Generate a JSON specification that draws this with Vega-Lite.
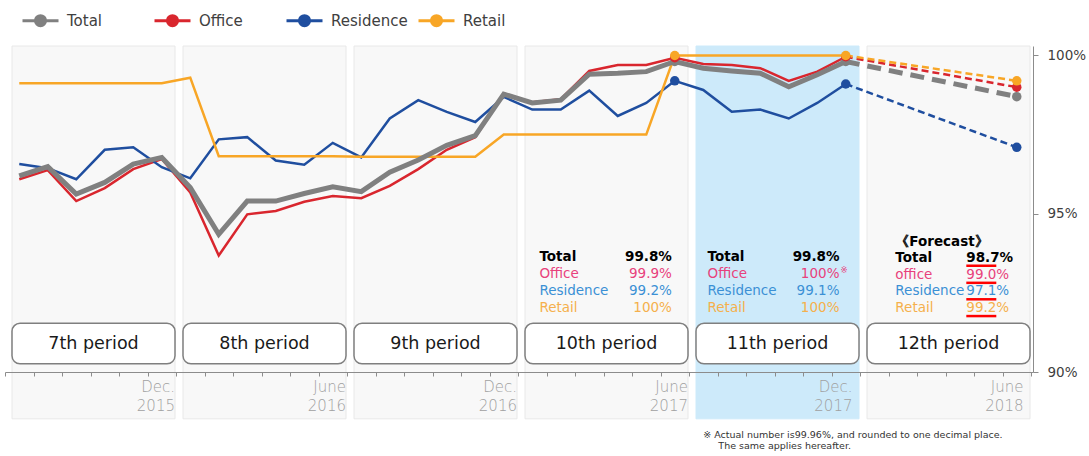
{
  "$schema": "https://vega.github.io/schema/vega-lite/v6.json",
  "width": 1028,
  "height": 326,
  "autosize": {"type": "none"},
  "padding": {"left": 5, "top": 46, "right": 56, "bottom": 84},
  "background": "white",
  "config": {
    "view": {"stroke": null},
    "font": "DejaVu Sans",
    "axisX": {"grid": false, "zindex": 1, "domainColor": "#8c8c8c", "tickColor": "#8c8c8c", "tickSize": 4, "labelAlign": "right", "labelBaseline": "top", "labelFontSize": 15, "labelFontWeight": 200, "labelColor": "#a0a0a0", "labelFont": "DejaVu Sans", "labelPadding": 3, "labelLineHeight": 19, "labelOverlap": false, "labelBound": false, "labelFlush": false, "labelAngle": 0},
    "axisY": {"grid": false, "zindex": 1, "domainColor": "#8c8c8c", "tickColor": "#8c8c8c", "tickSize": 5, "labelFontSize": 13.5, "labelFontWeight": "normal", "labelFont": "DejaVu Sans", "labelColor": "#404040", "labelPadding": 9, "labelBound": false, "labelFlush": false}
  },
  "datasets": {
    "occ": [
      {"month": 0, "series": "Total", "value": 96.20}, {"month": 1, "series": "Total", "value": 96.49}, {"month": 2, "series": "Total", "value": 95.62}, {"month": 3, "series": "Total", "value": 95.99}, {"month": 4, "series": "Total", "value": 96.57}, {"month": 5, "series": "Total", "value": 96.78},
      {"month": 6, "series": "Total", "value": 95.83}, {"month": 7, "series": "Total", "value": 94.35}, {"month": 8, "series": "Total", "value": 95.40}, {"month": 9, "series": "Total", "value": 95.40}, {"month": 10, "series": "Total", "value": 95.64}, {"month": 11, "series": "Total", "value": 95.85},
      {"month": 12, "series": "Total", "value": 95.70}, {"month": 13, "series": "Total", "value": 96.31}, {"month": 14, "series": "Total", "value": 96.70}, {"month": 15, "series": "Total", "value": 97.16}, {"month": 16, "series": "Total", "value": 97.47}, {"month": 17, "series": "Total", "value": 98.78},
      {"month": 18, "series": "Total", "value": 98.50}, {"month": 19, "series": "Total", "value": 98.59}, {"month": 20, "series": "Total", "value": 99.41}, {"month": 21, "series": "Total", "value": 99.44}, {"month": 22, "series": "Total", "value": 99.49}, {"month": 23, "series": "Total", "value": 99.81},
      {"month": 24, "series": "Total", "value": 99.60}, {"month": 25, "series": "Total", "value": 99.51}, {"month": 26, "series": "Total", "value": 99.44}, {"month": 27, "series": "Total", "value": 99.01}, {"month": 28, "series": "Total", "value": 99.39}, {"month": 29, "series": "Total", "value": 99.81},
      {"month": 35, "series": "Total", "value": 98.70},
      {"month": 0, "series": "Office", "value": 96.09}, {"month": 1, "series": "Office", "value": 96.38}, {"month": 2, "series": "Office", "value": 95.40}, {"month": 3, "series": "Office", "value": 95.81}, {"month": 4, "series": "Office", "value": 96.41}, {"month": 5, "series": "Office", "value": 96.73},
      {"month": 6, "series": "Office", "value": 95.67}, {"month": 7, "series": "Office", "value": 93.68}, {"month": 8, "series": "Office", "value": 94.98}, {"month": 9, "series": "Office", "value": 95.09}, {"month": 10, "series": "Office", "value": 95.38}, {"month": 11, "series": "Office", "value": 95.56},
      {"month": 12, "series": "Office", "value": 95.49}, {"month": 13, "series": "Office", "value": 95.88}, {"month": 14, "series": "Office", "value": 96.41}, {"month": 15, "series": "Office", "value": 97.02}, {"month": 16, "series": "Office", "value": 97.42}, {"month": 17, "series": "Office", "value": 98.80},
      {"month": 18, "series": "Office", "value": 98.52}, {"month": 19, "series": "Office", "value": 98.62}, {"month": 20, "series": "Office", "value": 99.51}, {"month": 21, "series": "Office", "value": 99.70}, {"month": 22, "series": "Office", "value": 99.70}, {"month": 23, "series": "Office", "value": 99.93},
      {"month": 24, "series": "Office", "value": 99.73}, {"month": 25, "series": "Office", "value": 99.70}, {"month": 26, "series": "Office", "value": 99.60}, {"month": 27, "series": "Office", "value": 99.20}, {"month": 28, "series": "Office", "value": 99.49}, {"month": 29, "series": "Office", "value": 99.96},
      {"month": 35, "series": "Office", "value": 99.00},
      {"month": 0, "series": "Residence", "value": 96.57}, {"month": 1, "series": "Residence", "value": 96.44}, {"month": 2, "series": "Residence", "value": 96.09}, {"month": 3, "series": "Residence", "value": 97.02}, {"month": 4, "series": "Residence", "value": 97.10}, {"month": 5, "series": "Residence", "value": 96.47},
      {"month": 6, "series": "Residence", "value": 96.12}, {"month": 7, "series": "Residence", "value": 97.35}, {"month": 8, "series": "Residence", "value": 97.42}, {"month": 9, "series": "Residence", "value": 96.68}, {"month": 10, "series": "Residence", "value": 96.55}, {"month": 11, "series": "Residence", "value": 97.24},
      {"month": 12, "series": "Residence", "value": 96.78}, {"month": 13, "series": "Residence", "value": 98.01}, {"month": 14, "series": "Residence", "value": 98.59}, {"month": 15, "series": "Residence", "value": 98.22}, {"month": 16, "series": "Residence", "value": 97.90}, {"month": 17, "series": "Residence", "value": 98.69},
      {"month": 18, "series": "Residence", "value": 98.29}, {"month": 19, "series": "Residence", "value": 98.29}, {"month": 20, "series": "Residence", "value": 98.89}, {"month": 21, "series": "Residence", "value": 98.09}, {"month": 22, "series": "Residence", "value": 98.50}, {"month": 23, "series": "Residence", "value": 99.20},
      {"month": 24, "series": "Residence", "value": 98.91}, {"month": 25, "series": "Residence", "value": 98.22}, {"month": 26, "series": "Residence", "value": 98.29}, {"month": 27, "series": "Residence", "value": 98.01}, {"month": 28, "series": "Residence", "value": 98.50}, {"month": 29, "series": "Residence", "value": 99.10},
      {"month": 35, "series": "Residence", "value": 97.10},
      {"month": 0, "series": "Retail", "value": 99.12}, {"month": 1, "series": "Retail", "value": 99.12}, {"month": 2, "series": "Retail", "value": 99.12}, {"month": 3, "series": "Retail", "value": 99.12}, {"month": 4, "series": "Retail", "value": 99.12}, {"month": 5, "series": "Retail", "value": 99.12},
      {"month": 6, "series": "Retail", "value": 99.30}, {"month": 7, "series": "Retail", "value": 96.82}, {"month": 8, "series": "Retail", "value": 96.82}, {"month": 9, "series": "Retail", "value": 96.82}, {"month": 10, "series": "Retail", "value": 96.82}, {"month": 11, "series": "Retail", "value": 96.82},
      {"month": 12, "series": "Retail", "value": 96.80}, {"month": 13, "series": "Retail", "value": 96.80}, {"month": 14, "series": "Retail", "value": 96.80}, {"month": 15, "series": "Retail", "value": 96.80}, {"month": 16, "series": "Retail", "value": 96.80}, {"month": 17, "series": "Retail", "value": 97.50},
      {"month": 18, "series": "Retail", "value": 97.50}, {"month": 19, "series": "Retail", "value": 97.50}, {"month": 20, "series": "Retail", "value": 97.50}, {"month": 21, "series": "Retail", "value": 97.50}, {"month": 22, "series": "Retail", "value": 97.50}, {"month": 23, "series": "Retail", "value": 100.0},
      {"month": 24, "series": "Retail", "value": 100.0}, {"month": 25, "series": "Retail", "value": 100.0}, {"month": 26, "series": "Retail", "value": 100.0}, {"month": 27, "series": "Retail", "value": 100.0}, {"month": 28, "series": "Retail", "value": 100.0}, {"month": 29, "series": "Retail", "value": 100.0},
      {"month": 35, "series": "Retail", "value": 99.20}
    ],
    "periods": [
      {"period": "7th period", "start": -0.5, "end": 5.5, "mid": 2.5},
      {"period": "8th period", "start": 5.5, "end": 11.5, "mid": 8.5},
      {"period": "9th period", "start": 11.5, "end": 17.5, "mid": 14.5},
      {"period": "10th period", "start": 17.5, "end": 23.5, "mid": 20.5},
      {"period": "11th period", "start": 23.5, "end": 29.5, "mid": 26.5},
      {"period": "12th period", "start": 29.5, "end": 35.5, "mid": 32.5}
    ],
    "ann": [
      {"blk": "10", "series": "Total", "part": "label", "x": 18.25, "y": 93.63, "text": "Total"},
      {"blk": "10", "series": "Office", "part": "label", "x": 18.25, "y": 93.09, "text": "Office"},
      {"blk": "10", "series": "Residence", "part": "label", "x": 18.25, "y": 92.55, "text": "Residence"},
      {"blk": "10", "series": "Retail", "part": "label", "x": 18.25, "y": 92.03, "text": "Retail"},
      {"blk": "10", "series": "Total", "part": "value", "x": 22.9, "y": 93.63, "text": "99.8%"},
      {"blk": "10", "series": "Office", "part": "value", "x": 22.9, "y": 93.09, "text": "99.9%"},
      {"blk": "10", "series": "Residence", "part": "value", "x": 22.9, "y": 92.55, "text": "99.2%"},
      {"blk": "10", "series": "Retail", "part": "value", "x": 22.9, "y": 92.03, "text": "100%"},
      {"blk": "11", "series": "Total", "part": "label", "x": 24.15, "y": 93.63, "text": "Total"},
      {"blk": "11", "series": "Office", "part": "label", "x": 24.15, "y": 93.09, "text": "Office"},
      {"blk": "11", "series": "Residence", "part": "label", "x": 24.15, "y": 92.55, "text": "Residence"},
      {"blk": "11", "series": "Retail", "part": "label", "x": 24.15, "y": 92.03, "text": "Retail"},
      {"blk": "11", "series": "Total", "part": "value", "x": 28.78, "y": 93.63, "text": "99.8%"},
      {"blk": "11", "series": "Office", "part": "value", "x": 28.78, "y": 93.09, "text": "100%"},
      {"blk": "11", "series": "Residence", "part": "value", "x": 28.78, "y": 92.55, "text": "99.1%"},
      {"blk": "11", "series": "Retail", "part": "value", "x": 28.78, "y": 92.03, "text": "100%"},
      {"blk": "11", "series": "Office", "part": "mark", "x": 28.78, "y": 93.09, "text": "※"},
      {"blk": "12", "series": "Total", "part": "header", "x": 30.74, "y": 94.10, "text": "《Forecast》"},
      {"blk": "12", "series": "Total", "part": "label", "x": 30.74, "y": 93.61, "text": "Total"},
      {"blk": "12", "series": "Office", "part": "label", "x": 30.74, "y": 93.07, "text": "office"},
      {"blk": "12", "series": "Residence", "part": "label", "x": 30.74, "y": 92.55, "text": "Residence"},
      {"blk": "12", "series": "Retail", "part": "label", "x": 30.74, "y": 92.02, "text": "Retail"},
      {"blk": "12", "series": "Total", "part": "value", "x": 33.23, "y": 93.61, "text": "98.7%"},
      {"blk": "12", "series": "Office", "part": "value", "x": 33.23, "y": 93.07, "text": "99.0%"},
      {"blk": "12", "series": "Residence", "part": "value", "x": 33.23, "y": 92.55, "text": "97.1%"},
      {"blk": "12", "series": "Retail", "part": "value", "x": 33.23, "y": 92.02, "text": "99.2%"},
      {"blk": "note", "series": "note", "part": "note", "x": 24.0, "y": 88.02, "text": "※ Actual number is99.96%, and rounded to one decimal place."},
      {"blk": "note", "series": "note", "part": "note", "x": 24.53, "y": 87.65, "text": "The same applies hereafter."}
    ]
  },
  "layer": [
    {
      "data": {"name": "periods"},
      "mark": {"type": "rect", "xOffset": 7, "x2Offset": -1, "strokeWidth": 1},
      "encoding": {
        "x": {"field": "start", "type": "quantitative", "scale": {"domain": [-0.5, 35.57], "nice": false, "zero": false}, "axis": {"orient": "bottom", "zindex": 1, "title": null, "labelOffset": {"condition": {"test": "datum.value > 26", "value": -8}, "value": -1.5}, "values": [-0.5, 0.5, 1.5, 2.5, 3.5, 4.5, 5.5, 6.5, 7.5, 8.5, 9.5, 10.5, 11.5, 12.5, 13.5, 14.5, 15.5, 16.5, 17.5, 18.5, 19.5, 20.5, 21.5, 22.5, 23.5, 24.5, 25.5, 26.5, 27.5, 28.5, 29.5, 30.5, 31.5, 32.5, 33.5, 34.5, 35.5], "labelExpr": "datum.value == 5.5 ? ['Dec.', '2015'] : datum.value == 11.5 ? ['June', '2016'] : datum.value == 17.5 ? ['Dec.', '2016'] : datum.value == 23.5 ? ['June', '2017'] : datum.value == 29.5 ? ['Dec.', '2017'] : datum.value == 35.5 ? ['June', '2018'] : ''"}},
        "x2": {"field": "end"},
        "y": {"datum": 100.3, "type": "quantitative", "scale": {"domain": [90, 100.3], "nice": false, "zero": false}, "axis": {"orient": "right", "zindex": 1, "title": null, "values": [90, 95, 100], "labelExpr": "datum.value + '%'"}},
        "y2": {"datum": 88.52},
        "fill": {"condition": {"test": "datum.period == '11th period'", "value": "#cdeafa"}, "value": "#f8f8f8"},
        "stroke": {"condition": {"test": "datum.period == '11th period'", "value": "#cdeafa"}, "value": "#e8e8e8"}
      }
    },
    {
      "data": {"name": "periods"},
      "mark": {"type": "rect", "xOffset": 7, "x2Offset": -1, "cornerRadius": 8, "fill": "white", "stroke": "#7f7f7f", "strokeWidth": 1.5},
      "encoding": {
        "x": {"field": "start", "type": "quantitative", "scale": {"domain": [-0.5, 35.57], "nice": false, "zero": false}, "axis": {"orient": "bottom", "zindex": 1, "title": null, "values": [-0.5, 0.5, 1.5, 2.5, 3.5, 4.5, 5.5, 6.5, 7.5, 8.5, 9.5, 10.5, 11.5, 12.5, 13.5, 14.5, 15.5, 16.5, 17.5, 18.5, 19.5, 20.5, 21.5, 22.5, 23.5, 24.5, 25.5, 26.5, 27.5, 28.5, 29.5, 30.5, 31.5, 32.5, 33.5, 34.5, 35.5], "labelExpr": "datum.value == 5.5 ? ['Dec.', '2015'] : datum.value == 11.5 ? ['June', '2016'] : datum.value == 17.5 ? ['Dec.', '2016'] : datum.value == 23.5 ? ['June', '2017'] : datum.value == 29.5 ? ['Dec.', '2017'] : datum.value == 35.5 ? ['June', '2018'] : ''"}},
        "x2": {"field": "end"},
        "y": {"datum": 91.54, "type": "quantitative", "scale": {"domain": [90, 100.3], "nice": false, "zero": false}, "axis": {"orient": "right", "zindex": 1, "title": null, "values": [90, 95, 100], "labelExpr": "datum.value + '%'"}},
        "y2": {"datum": 90.26}
      }
    },
    {
      "data": {"name": "periods"},
      "mark": {"type": "text", "dx": 3, "fontSize": 17.5, "font": "DejaVu Sans", "color": "#1a1a1a", "align": "center", "baseline": "middle"},
      "encoding": {
        "x": {"field": "mid", "type": "quantitative", "scale": {"domain": [-0.5, 35.57], "nice": false, "zero": false}, "axis": {"orient": "bottom", "zindex": 1, "title": null, "values": [-0.5, 0.5, 1.5, 2.5, 3.5, 4.5, 5.5, 6.5, 7.5, 8.5, 9.5, 10.5, 11.5, 12.5, 13.5, 14.5, 15.5, 16.5, 17.5, 18.5, 19.5, 20.5, 21.5, 22.5, 23.5, 24.5, 25.5, 26.5, 27.5, 28.5, 29.5, 30.5, 31.5, 32.5, 33.5, 34.5, 35.5], "labelExpr": "datum.value == 5.5 ? ['Dec.', '2015'] : datum.value == 11.5 ? ['June', '2016'] : datum.value == 17.5 ? ['Dec.', '2016'] : datum.value == 23.5 ? ['June', '2017'] : datum.value == 29.5 ? ['Dec.', '2017'] : datum.value == 35.5 ? ['June', '2018'] : ''"}},
        "y": {"datum": 90.9, "type": "quantitative", "scale": {"domain": [90, 100.3], "nice": false, "zero": false}, "axis": {"orient": "right", "zindex": 1, "title": null, "values": [90, 95, 100], "labelExpr": "datum.value + '%'"}},
        "text": {"field": "period"}
      }
    },
    {
      "data": {"name": "occ"},
      "transform": [{"filter": "datum.month <= 29 && datum.series != 'Total'"}],
      "mark": {"type": "line", "strokeWidth": 2.5},
      "encoding": {
        "x": {"field": "month", "type": "quantitative", "scale": {"domain": [-0.5, 35.57], "nice": false, "zero": false}, "axis": {"orient": "bottom", "zindex": 1, "title": null, "values": [-0.5, 0.5, 1.5, 2.5, 3.5, 4.5, 5.5, 6.5, 7.5, 8.5, 9.5, 10.5, 11.5, 12.5, 13.5, 14.5, 15.5, 16.5, 17.5, 18.5, 19.5, 20.5, 21.5, 22.5, 23.5, 24.5, 25.5, 26.5, 27.5, 28.5, 29.5, 30.5, 31.5, 32.5, 33.5, 34.5, 35.5], "labelExpr": "datum.value == 5.5 ? ['Dec.', '2015'] : datum.value == 11.5 ? ['June', '2016'] : datum.value == 17.5 ? ['Dec.', '2016'] : datum.value == 23.5 ? ['June', '2017'] : datum.value == 29.5 ? ['Dec.', '2017'] : datum.value == 35.5 ? ['June', '2018'] : ''"}},
        "y": {"field": "value", "type": "quantitative", "scale": {"domain": [90, 100.3], "nice": false, "zero": false}, "axis": {"orient": "right", "zindex": 1, "title": null, "values": [90, 95, 100], "labelExpr": "datum.value + '%'"}},
        "color": {"field": "series", "type": "nominal",
          "scale": {"domain": ["Total", "Office", "Residence", "Retail"], "range": ["#808080", "#d9262e", "#1f4e9f", "#f8a626"]},
          "legend": {"orient": "none", "legendX": 16, "legendY": -45, "direction": "horizontal", "title": null,
            "symbolType": "M-1,0H1M-0.28,0A0.28,0.28,0,1,1,0.28,0A0.28,0.28,0,1,1,-0.28,0",
            "symbolSize": 1296, "symbolStrokeWidth": 3, "labelFontSize": 15, "labelFont": "DejaVu Sans", "labelColor": "#404040",
            "labelOffset": 7, "gridAlign": "all", "columnPadding": 4,
            "encode": {"symbols": {"update": {"fill": {"scale": "color", "field": "value"}, "stroke": {"scale": "color", "field": "value"}, "opacity": {"value": 1}}}}}}
      }
    },
    {
      "data": {"name": "occ"},
      "transform": [{"filter": "datum.month <= 29 && datum.series == 'Total'"}],
      "mark": {"type": "line", "strokeWidth": 5},
      "encoding": {
        "x": {"field": "month", "type": "quantitative", "scale": {"domain": [-0.5, 35.57], "nice": false, "zero": false}, "axis": {"orient": "bottom", "zindex": 1, "title": null, "values": [-0.5, 0.5, 1.5, 2.5, 3.5, 4.5, 5.5, 6.5, 7.5, 8.5, 9.5, 10.5, 11.5, 12.5, 13.5, 14.5, 15.5, 16.5, 17.5, 18.5, 19.5, 20.5, 21.5, 22.5, 23.5, 24.5, 25.5, 26.5, 27.5, 28.5, 29.5, 30.5, 31.5, 32.5, 33.5, 34.5, 35.5], "labelExpr": "datum.value == 5.5 ? ['Dec.', '2015'] : datum.value == 11.5 ? ['June', '2016'] : datum.value == 17.5 ? ['Dec.', '2016'] : datum.value == 23.5 ? ['June', '2017'] : datum.value == 29.5 ? ['Dec.', '2017'] : datum.value == 35.5 ? ['June', '2018'] : ''"}},
        "y": {"field": "value", "type": "quantitative", "scale": {"domain": [90, 100.3], "nice": false, "zero": false}, "axis": {"orient": "right", "zindex": 1, "title": null, "values": [90, 95, 100], "labelExpr": "datum.value + '%'"}},
        "color": {"field": "series", "type": "nominal"}
      }
    },
    {
      "data": {"name": "occ"},
      "transform": [{"filter": "datum.month >= 29 && datum.series != 'Total'"}],
      "mark": {"type": "line", "strokeWidth": 2.5, "strokeDash": [7, 4]},
      "encoding": {
        "x": {"field": "month", "type": "quantitative", "scale": {"domain": [-0.5, 35.57], "nice": false, "zero": false}, "axis": {"orient": "bottom", "zindex": 1, "title": null, "values": [-0.5, 0.5, 1.5, 2.5, 3.5, 4.5, 5.5, 6.5, 7.5, 8.5, 9.5, 10.5, 11.5, 12.5, 13.5, 14.5, 15.5, 16.5, 17.5, 18.5, 19.5, 20.5, 21.5, 22.5, 23.5, 24.5, 25.5, 26.5, 27.5, 28.5, 29.5, 30.5, 31.5, 32.5, 33.5, 34.5, 35.5], "labelExpr": "datum.value == 5.5 ? ['Dec.', '2015'] : datum.value == 11.5 ? ['June', '2016'] : datum.value == 17.5 ? ['Dec.', '2016'] : datum.value == 23.5 ? ['June', '2017'] : datum.value == 29.5 ? ['Dec.', '2017'] : datum.value == 35.5 ? ['June', '2018'] : ''"}},
        "y": {"field": "value", "type": "quantitative", "scale": {"domain": [90, 100.3], "nice": false, "zero": false}, "axis": {"orient": "right", "zindex": 1, "title": null, "values": [90, 95, 100], "labelExpr": "datum.value + '%'"}},
        "color": {"field": "series", "type": "nominal"}
      }
    },
    {
      "data": {"name": "occ"},
      "transform": [{"filter": "datum.month >= 29 && datum.series == 'Total'"}],
      "mark": {"type": "line", "strokeWidth": 5, "strokeDash": [14, 8]},
      "encoding": {
        "x": {"field": "month", "type": "quantitative", "scale": {"domain": [-0.5, 35.57], "nice": false, "zero": false}, "axis": {"orient": "bottom", "zindex": 1, "title": null, "values": [-0.5, 0.5, 1.5, 2.5, 3.5, 4.5, 5.5, 6.5, 7.5, 8.5, 9.5, 10.5, 11.5, 12.5, 13.5, 14.5, 15.5, 16.5, 17.5, 18.5, 19.5, 20.5, 21.5, 22.5, 23.5, 24.5, 25.5, 26.5, 27.5, 28.5, 29.5, 30.5, 31.5, 32.5, 33.5, 34.5, 35.5], "labelExpr": "datum.value == 5.5 ? ['Dec.', '2015'] : datum.value == 11.5 ? ['June', '2016'] : datum.value == 17.5 ? ['Dec.', '2016'] : datum.value == 23.5 ? ['June', '2017'] : datum.value == 29.5 ? ['Dec.', '2017'] : datum.value == 35.5 ? ['June', '2018'] : ''"}},
        "y": {"field": "value", "type": "quantitative", "scale": {"domain": [90, 100.3], "nice": false, "zero": false}, "axis": {"orient": "right", "zindex": 1, "title": null, "values": [90, 95, 100], "labelExpr": "datum.value + '%'"}},
        "color": {"field": "series", "type": "nominal"}
      }
    },
    {
      "data": {"name": "occ"},
      "transform": [{"filter": "(datum.month == 23 || datum.month == 29 || datum.month == 35) && datum.series == 'Total'"}],
      "mark": {"type": "point", "filled": true, "size": 90, "opacity": 1, "shape": "circle"},
      "encoding": {
        "x": {"field": "month", "type": "quantitative", "scale": {"domain": [-0.5, 35.57], "nice": false, "zero": false}, "axis": {"orient": "bottom", "zindex": 1, "title": null, "values": [-0.5, 0.5, 1.5, 2.5, 3.5, 4.5, 5.5, 6.5, 7.5, 8.5, 9.5, 10.5, 11.5, 12.5, 13.5, 14.5, 15.5, 16.5, 17.5, 18.5, 19.5, 20.5, 21.5, 22.5, 23.5, 24.5, 25.5, 26.5, 27.5, 28.5, 29.5, 30.5, 31.5, 32.5, 33.5, 34.5, 35.5], "labelExpr": "datum.value == 5.5 ? ['Dec.', '2015'] : datum.value == 11.5 ? ['June', '2016'] : datum.value == 17.5 ? ['Dec.', '2016'] : datum.value == 23.5 ? ['June', '2017'] : datum.value == 29.5 ? ['Dec.', '2017'] : datum.value == 35.5 ? ['June', '2018'] : ''"}},
        "y": {"field": "value", "type": "quantitative", "scale": {"domain": [90, 100.3], "nice": false, "zero": false}, "axis": {"orient": "right", "zindex": 1, "title": null, "values": [90, 95, 100], "labelExpr": "datum.value + '%'"}},
        "color": {"field": "series", "type": "nominal"}
      }
    },
    {
      "data": {"name": "occ"},
      "transform": [{"filter": "(datum.month == 23 || datum.month == 29 || datum.month == 35) && datum.series != 'Total'"}],
      "mark": {"type": "point", "filled": true, "size": 90, "opacity": 1, "shape": "circle"},
      "encoding": {
        "x": {"field": "month", "type": "quantitative", "scale": {"domain": [-0.5, 35.57], "nice": false, "zero": false}, "axis": {"orient": "bottom", "zindex": 1, "title": null, "values": [-0.5, 0.5, 1.5, 2.5, 3.5, 4.5, 5.5, 6.5, 7.5, 8.5, 9.5, 10.5, 11.5, 12.5, 13.5, 14.5, 15.5, 16.5, 17.5, 18.5, 19.5, 20.5, 21.5, 22.5, 23.5, 24.5, 25.5, 26.5, 27.5, 28.5, 29.5, 30.5, 31.5, 32.5, 33.5, 34.5, 35.5], "labelExpr": "datum.value == 5.5 ? ['Dec.', '2015'] : datum.value == 11.5 ? ['June', '2016'] : datum.value == 17.5 ? ['Dec.', '2016'] : datum.value == 23.5 ? ['June', '2017'] : datum.value == 29.5 ? ['Dec.', '2017'] : datum.value == 35.5 ? ['June', '2018'] : ''"}},
        "y": {"field": "value", "type": "quantitative", "scale": {"domain": [90, 100.3], "nice": false, "zero": false}, "axis": {"orient": "right", "zindex": 1, "title": null, "values": [90, 95, 100], "labelExpr": "datum.value + '%'"}},
        "color": {"field": "series", "type": "nominal"}
      }
    },
    {
      "data": {"name": "ann"},
      "transform": [{"filter": "(datum.part == 'label' && datum.series != 'Total') || (datum.blk == '12' && datum.part == 'value' && datum.series != 'Total')"}],
      "mark": {"type": "text", "align": "left", "baseline": "middle", "fontSize": 13.5, "font": "DejaVu Sans"},
      "encoding": {
        "x": {"field": "x", "type": "quantitative", "scale": {"domain": [-0.5, 35.57], "nice": false, "zero": false}, "axis": {"orient": "bottom", "zindex": 1, "title": null, "values": [-0.5, 0.5, 1.5, 2.5, 3.5, 4.5, 5.5, 6.5, 7.5, 8.5, 9.5, 10.5, 11.5, 12.5, 13.5, 14.5, 15.5, 16.5, 17.5, 18.5, 19.5, 20.5, 21.5, 22.5, 23.5, 24.5, 25.5, 26.5, 27.5, 28.5, 29.5, 30.5, 31.5, 32.5, 33.5, 34.5, 35.5], "labelExpr": "datum.value == 5.5 ? ['Dec.', '2015'] : datum.value == 11.5 ? ['June', '2016'] : datum.value == 17.5 ? ['Dec.', '2016'] : datum.value == 23.5 ? ['June', '2017'] : datum.value == 29.5 ? ['Dec.', '2017'] : datum.value == 35.5 ? ['June', '2018'] : ''"}},
        "y": {"field": "y", "type": "quantitative", "scale": {"domain": [90, 100.3], "nice": false, "zero": false}, "axis": {"orient": "right", "zindex": 1, "title": null, "values": [90, 95, 100], "labelExpr": "datum.value + '%'"}},
        "text": {"field": "text"},
        "color": {"condition": [{"test": "datum.series == 'Office'", "value": "#e8417c"}, {"test": "datum.series == 'Residence'", "value": "#3b90d5"}, {"test": "datum.series == 'Retail'", "value": "#f5b04c"}], "value": "#000000"}
      }
    },
    {
      "data": {"name": "ann"},
      "transform": [{"filter": "(datum.part == 'label' && datum.series == 'Total') || datum.part == 'header' || (datum.blk == '12' && datum.part == 'value' && datum.series == 'Total')"}],
      "mark": {"type": "text", "align": "left", "baseline": "middle", "fontSize": 13.5, "font": "DejaVu Sans", "fontWeight": "bold", "color": "#000000"},
      "encoding": {
        "x": {"field": "x", "type": "quantitative", "scale": {"domain": [-0.5, 35.57], "nice": false, "zero": false}, "axis": {"orient": "bottom", "zindex": 1, "title": null, "values": [-0.5, 0.5, 1.5, 2.5, 3.5, 4.5, 5.5, 6.5, 7.5, 8.5, 9.5, 10.5, 11.5, 12.5, 13.5, 14.5, 15.5, 16.5, 17.5, 18.5, 19.5, 20.5, 21.5, 22.5, 23.5, 24.5, 25.5, 26.5, 27.5, 28.5, 29.5, 30.5, 31.5, 32.5, 33.5, 34.5, 35.5], "labelExpr": "datum.value == 5.5 ? ['Dec.', '2015'] : datum.value == 11.5 ? ['June', '2016'] : datum.value == 17.5 ? ['Dec.', '2016'] : datum.value == 23.5 ? ['June', '2017'] : datum.value == 29.5 ? ['Dec.', '2017'] : datum.value == 35.5 ? ['June', '2018'] : ''"}},
        "y": {"field": "y", "type": "quantitative", "scale": {"domain": [90, 100.3], "nice": false, "zero": false}, "axis": {"orient": "right", "zindex": 1, "title": null, "values": [90, 95, 100], "labelExpr": "datum.value + '%'"}},
        "text": {"field": "text"}
      }
    },
    {
      "data": {"name": "ann"},
      "transform": [{"filter": "datum.blk != '12' && datum.part == 'value' && datum.series != 'Total'"}],
      "mark": {"type": "text", "align": "right", "baseline": "middle", "fontSize": 13.5, "font": "DejaVu Sans"},
      "encoding": {
        "x": {"field": "x", "type": "quantitative", "scale": {"domain": [-0.5, 35.57], "nice": false, "zero": false}, "axis": {"orient": "bottom", "zindex": 1, "title": null, "values": [-0.5, 0.5, 1.5, 2.5, 3.5, 4.5, 5.5, 6.5, 7.5, 8.5, 9.5, 10.5, 11.5, 12.5, 13.5, 14.5, 15.5, 16.5, 17.5, 18.5, 19.5, 20.5, 21.5, 22.5, 23.5, 24.5, 25.5, 26.5, 27.5, 28.5, 29.5, 30.5, 31.5, 32.5, 33.5, 34.5, 35.5], "labelExpr": "datum.value == 5.5 ? ['Dec.', '2015'] : datum.value == 11.5 ? ['June', '2016'] : datum.value == 17.5 ? ['Dec.', '2016'] : datum.value == 23.5 ? ['June', '2017'] : datum.value == 29.5 ? ['Dec.', '2017'] : datum.value == 35.5 ? ['June', '2018'] : ''"}},
        "y": {"field": "y", "type": "quantitative", "scale": {"domain": [90, 100.3], "nice": false, "zero": false}, "axis": {"orient": "right", "zindex": 1, "title": null, "values": [90, 95, 100], "labelExpr": "datum.value + '%'"}},
        "text": {"field": "text"},
        "color": {"condition": [{"test": "datum.series == 'Office'", "value": "#e8417c"}, {"test": "datum.series == 'Residence'", "value": "#3b90d5"}, {"test": "datum.series == 'Retail'", "value": "#f5b04c"}], "value": "#000000"}
      }
    },
    {
      "data": {"name": "ann"},
      "transform": [{"filter": "datum.blk != '12' && datum.part == 'value' && datum.series == 'Total'"}],
      "mark": {"type": "text", "align": "right", "baseline": "middle", "fontSize": 13.5, "font": "DejaVu Sans", "fontWeight": "bold", "color": "#000000"},
      "encoding": {
        "x": {"field": "x", "type": "quantitative", "scale": {"domain": [-0.5, 35.57], "nice": false, "zero": false}, "axis": {"orient": "bottom", "zindex": 1, "title": null, "values": [-0.5, 0.5, 1.5, 2.5, 3.5, 4.5, 5.5, 6.5, 7.5, 8.5, 9.5, 10.5, 11.5, 12.5, 13.5, 14.5, 15.5, 16.5, 17.5, 18.5, 19.5, 20.5, 21.5, 22.5, 23.5, 24.5, 25.5, 26.5, 27.5, 28.5, 29.5, 30.5, 31.5, 32.5, 33.5, 34.5, 35.5], "labelExpr": "datum.value == 5.5 ? ['Dec.', '2015'] : datum.value == 11.5 ? ['June', '2016'] : datum.value == 17.5 ? ['Dec.', '2016'] : datum.value == 23.5 ? ['June', '2017'] : datum.value == 29.5 ? ['Dec.', '2017'] : datum.value == 35.5 ? ['June', '2018'] : ''"}},
        "y": {"field": "y", "type": "quantitative", "scale": {"domain": [90, 100.3], "nice": false, "zero": false}, "axis": {"orient": "right", "zindex": 1, "title": null, "values": [90, 95, 100], "labelExpr": "datum.value + '%'"}},
        "text": {"field": "text"}
      }
    },
    {
      "data": {"name": "ann"},
      "transform": [{"filter": "datum.part == 'mark'"}],
      "mark": {"type": "text", "align": "left", "baseline": "middle", "dx": 1, "dy": -4, "fontSize": 8.5, "font": "DejaVu Sans", "color": "#e8417c"},
      "encoding": {
        "x": {"field": "x", "type": "quantitative", "scale": {"domain": [-0.5, 35.57], "nice": false, "zero": false}, "axis": {"orient": "bottom", "zindex": 1, "title": null, "values": [-0.5, 0.5, 1.5, 2.5, 3.5, 4.5, 5.5, 6.5, 7.5, 8.5, 9.5, 10.5, 11.5, 12.5, 13.5, 14.5, 15.5, 16.5, 17.5, 18.5, 19.5, 20.5, 21.5, 22.5, 23.5, 24.5, 25.5, 26.5, 27.5, 28.5, 29.5, 30.5, 31.5, 32.5, 33.5, 34.5, 35.5], "labelExpr": "datum.value == 5.5 ? ['Dec.', '2015'] : datum.value == 11.5 ? ['June', '2016'] : datum.value == 17.5 ? ['Dec.', '2016'] : datum.value == 23.5 ? ['June', '2017'] : datum.value == 29.5 ? ['Dec.', '2017'] : datum.value == 35.5 ? ['June', '2018'] : ''"}},
        "y": {"field": "y", "type": "quantitative", "scale": {"domain": [90, 100.3], "nice": false, "zero": false}, "axis": {"orient": "right", "zindex": 1, "title": null, "values": [90, 95, 100], "labelExpr": "datum.value + '%'"}},
        "text": {"field": "text"}
      }
    },
    {
      "data": {"name": "ann"},
      "transform": [{"filter": "datum.part == 'note'"}],
      "mark": {"type": "text", "align": "left", "baseline": "middle", "fontSize": 9.5, "font": "DejaVu Sans", "color": "#333333"},
      "encoding": {
        "x": {"field": "x", "type": "quantitative", "scale": {"domain": [-0.5, 35.57], "nice": false, "zero": false}, "axis": {"orient": "bottom", "zindex": 1, "title": null, "values": [-0.5, 0.5, 1.5, 2.5, 3.5, 4.5, 5.5, 6.5, 7.5, 8.5, 9.5, 10.5, 11.5, 12.5, 13.5, 14.5, 15.5, 16.5, 17.5, 18.5, 19.5, 20.5, 21.5, 22.5, 23.5, 24.5, 25.5, 26.5, 27.5, 28.5, 29.5, 30.5, 31.5, 32.5, 33.5, 34.5, 35.5], "labelExpr": "datum.value == 5.5 ? ['Dec.', '2015'] : datum.value == 11.5 ? ['June', '2016'] : datum.value == 17.5 ? ['Dec.', '2016'] : datum.value == 23.5 ? ['June', '2017'] : datum.value == 29.5 ? ['Dec.', '2017'] : datum.value == 35.5 ? ['June', '2018'] : ''"}},
        "y": {"field": "y", "type": "quantitative", "scale": {"domain": [90, 100.3], "nice": false, "zero": false}, "axis": {"orient": "right", "zindex": 1, "title": null, "values": [90, 95, 100], "labelExpr": "datum.value + '%'"}},
        "text": {"field": "text"}
      }
    },
    {
      "data": {"name": "ann"},
      "transform": [{"filter": "datum.blk == '12' && datum.part == 'value'"}],
      "mark": {"type": "rule", "color": "#ff0000", "strokeWidth": 2.5, "x2Offset": 30, "yOffset": 8},
      "encoding": {
        "x": {"field": "x", "type": "quantitative", "scale": {"domain": [-0.5, 35.57], "nice": false, "zero": false}, "axis": {"orient": "bottom", "zindex": 1, "title": null, "values": [-0.5, 0.5, 1.5, 2.5, 3.5, 4.5, 5.5, 6.5, 7.5, 8.5, 9.5, 10.5, 11.5, 12.5, 13.5, 14.5, 15.5, 16.5, 17.5, 18.5, 19.5, 20.5, 21.5, 22.5, 23.5, 24.5, 25.5, 26.5, 27.5, 28.5, 29.5, 30.5, 31.5, 32.5, 33.5, 34.5, 35.5], "labelExpr": "datum.value == 5.5 ? ['Dec.', '2015'] : datum.value == 11.5 ? ['June', '2016'] : datum.value == 17.5 ? ['Dec.', '2016'] : datum.value == 23.5 ? ['June', '2017'] : datum.value == 29.5 ? ['Dec.', '2017'] : datum.value == 35.5 ? ['June', '2018'] : ''"}},
        "x2": {"field": "x"},
        "y": {"field": "y", "type": "quantitative", "scale": {"domain": [90, 100.3], "nice": false, "zero": false}, "axis": {"orient": "right", "zindex": 1, "title": null, "values": [90, 95, 100], "labelExpr": "datum.value + '%'"}}
      }
    }
  ]
}
